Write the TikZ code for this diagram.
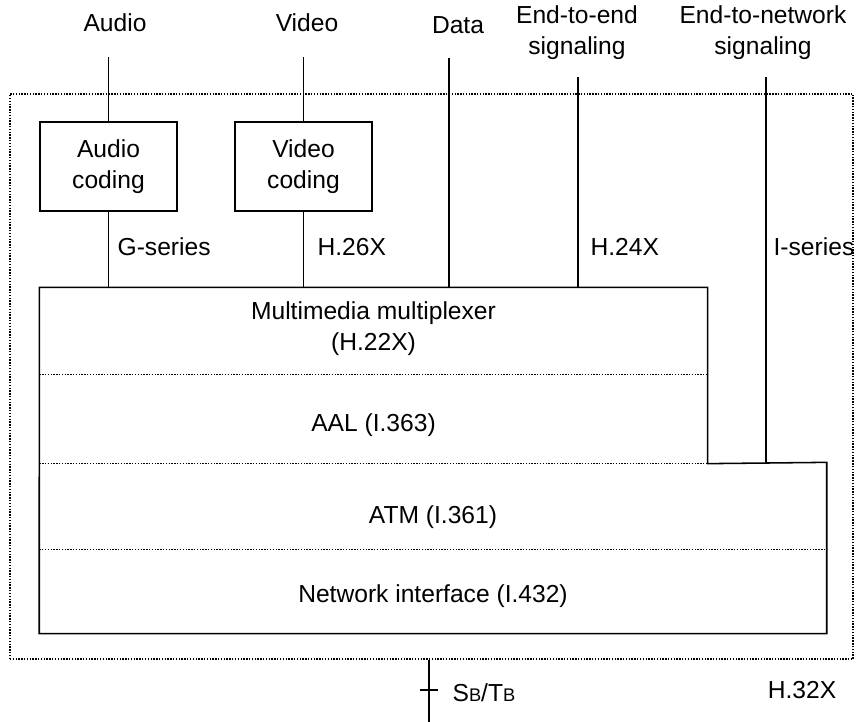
\documentclass[tikz,border=0pt]{standalone}
\usepackage{fontspec}
\setmainfont{Liberation Sans}
\usetikzlibrary{positioning,calc}

\begin{document}
\begin{tikzpicture}[x=0.025cm,y=-0.025cm,line width=0.9pt,
  every node/.style={font=\fontsize{17.5}{22}\selectfont,inner sep=0pt,align=center},
  coder/.style={draw,line width=1.1pt,minimum width=3.425cm,minimum height=2.225cm},
  layer/.style 2 args={minimum width=#1,minimum height=#2},
  divider/.style={densely dotted,line width=1pt},
  tag/.style={anchor=west}]
\useasboundingbox (0,0) rectangle (856,722);
\node[draw,densely dotted,line width=1pt,minimum width=21.075cm,minimum height=14.125cm] (term) at (431.5,376.5) {};
\node (audio) at (115,23) {Audio};
\node (video) at (307,23) {Video};
\node (data) at (458,25) {Data};
\node (e2e) at (577,33) {End-to-end\\signaling};
\node (e2n) at (763,33) {End-to-network\\signaling};
\coordinate (ain) at (108.5,57);
\coordinate (vin) at (303.5,57);
\coordinate (din) at (449,58);
\coordinate (ein) at (578,77);
\coordinate (nin) at (766,77);
\node[coder] (acod) at (108.5,166.5) {Audio\\coding};
\node[coder] (vcod) at (303.5,166.5) {Video\\coding};
\node[layer={16.675cm}{2.15cm}] (mux) at (373.5,331) {};
\node[layer={16.675cm}{2.225cm}] (aal) at (373.5,418.5) {};
\node[layer={19.65cm}{2.15cm}] (atm) at (433,506) {};
\node[layer={19.65cm}{2.1cm}] (net) at (433,591) {};
\node (muxtxt) at ($(mux)+(0,-2)$) {Multimedia multiplexer\\(H.22X)};
\node (aaltxt) at ($(aal)+(0,7)$) {AAL (I.363)};
\node (atmtxt) at ($(atm)+(0,11)$) {ATM (I.361)};
\node (nettxt) at ($(net)+(0,5)$) {Network interface (I.432)};
\draw[line width=1.1pt] (mux.north west) -- (mux.north east) -- (aal.south east) -- (atm.north east)
  -- (net.south east) -- (net.south west) -- cycle;
\draw[divider] (mux.south west) -- (mux.south east);
\draw[divider] (aal.south west) -- (aal.south east);
\draw[divider] (atm.south west) -- (atm.south east);
\draw (ain) -- (acod.north);
\draw (vin) -- (vcod.north);
\draw (acod) -- (acod |- mux.north);
\draw (vcod) -- (vcod |- mux.north);
\draw (din) -- (din |- mux.north);
\draw (ein) -- (ein |- mux.north);
\draw (nin) -- (nin |- atm.north);
\node[tag] (gser) at (117,247) {G-series};
\node[tag] (h26) at (317,247) {H.26X};
\node[tag] (h24) at (590,247) {H.24X};
\node[tag] (iser) at (773,247) {I-series};
\coordinate (nt) at (429,722);
\coordinate (ref) at (429,690);
\draw (term.south -| nt) -- (nt);
\draw ($(ref)+(-9,0)$) -- ($(ref)+(9,0)$);
\node[tag] (sbtb) at (452,693) {S{\fontsize{13}{13}\selectfont B}/T{\fontsize{13}{13}\selectfont B}};
\node (h32) at (802,690) {H.32X};
\end{tikzpicture}
\end{document}
